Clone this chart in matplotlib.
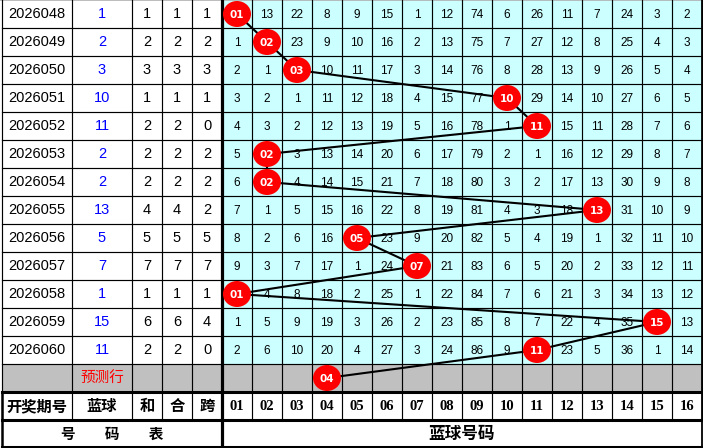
import matplotlib
matplotlib.use("Agg")
import matplotlib.pyplot as plt
from matplotlib.patches import Rectangle, Ellipse

# ---------------- data ----------------
periods = ["2026048", "2026049", "2026050", "2026051", "2026052", "2026053", "2026054",
           "2026055", "2026056", "2026057", "2026058", "2026059", "2026060"]
blue_ball = [1, 2, 3, 10, 11, 2, 2, 13, 5, 7, 1, 15, 11]
he_vals = [1, 2, 3, 1, 2, 2, 2, 4, 5, 7, 1, 6, 2]
hz_vals = [1, 2, 3, 1, 2, 2, 2, 4, 5, 7, 1, 6, 2]
kua_vals = [1, 2, 3, 1, 0, 2, 2, 2, 5, 7, 1, 4, 0]
predict_ball = 4
ball_labels = ["01", "02", "03", "04", "05", "06", "07", "08",
               "09", "10", "11", "12", "13", "14", "15", "16"]
omission = [
    [0, 13, 22, 8, 9, 15, 1, 12, 74, 6, 26, 11, 7, 24, 3, 2],
    [1, 0, 23, 9, 10, 16, 2, 13, 75, 7, 27, 12, 8, 25, 4, 3],
    [2, 1, 0, 10, 11, 17, 3, 14, 76, 8, 28, 13, 9, 26, 5, 4],
    [3, 2, 1, 11, 12, 18, 4, 15, 77, 0, 29, 14, 10, 27, 6, 5],
    [4, 3, 2, 12, 13, 19, 5, 16, 78, 1, 0, 15, 11, 28, 7, 6],
    [5, 0, 3, 13, 14, 20, 6, 17, 79, 2, 1, 16, 12, 29, 8, 7],
    [6, 0, 4, 14, 15, 21, 7, 18, 80, 3, 2, 17, 13, 30, 9, 8],
    [7, 1, 5, 15, 16, 22, 8, 19, 81, 4, 3, 18, 0, 31, 10, 9],
    [8, 2, 6, 16, 0, 23, 9, 20, 82, 5, 4, 19, 1, 32, 11, 10],
    [9, 3, 7, 17, 1, 24, 0, 21, 83, 6, 5, 20, 2, 33, 12, 11],
    [0, 4, 8, 18, 2, 25, 1, 22, 84, 7, 6, 21, 3, 34, 13, 12],
    [1, 5, 9, 19, 3, 26, 2, 23, 85, 8, 7, 22, 4, 35, 0, 13],
    [2, 6, 10, 20, 4, 27, 3, 24, 86, 9, 0, 23, 5, 36, 1, 14],
]
left_headers = ["开奖期号", "蓝球", "和", "合", "跨"]
predict_label = "预测行"
bottom_left = "号\u3000\u3000码\u3000\u3000表"
bottom_right = "蓝球号码"

# ---------------- layout ----------------
W, H = 703, 448
left_edges = [2, 72, 132, 162, 192, 222]
CW = 30
RH = 28
n_rows = len(periods)
blue_x0 = 222
blue_edges = [blue_x0 + CW * i for i in range(len(ball_labels) + 1)]
pred_y0 = RH * n_rows          # 364
head_y0 = pred_y0 + RH         # 392
foot_y0 = head_y0 + RH         # 420
foot_y1 = 447

CYAN = "#CCFFFF"
GRAY = "#C0C0C0"
RED = "#FF0000"
CJK = ["Noto Sans CJK SC", "DejaVu Sans"]

fig = plt.figure(figsize=(W / 100, H / 100), dpi=100)
ax = fig.add_axes([0, 0, 1, 1])
ax.set_xlim(0, W)
ax.set_ylim(H, 0)
ax.axis("off")

# background fills
ax.add_patch(Rectangle((0, 0), W, H, facecolor="white", edgecolor="none", zorder=0))
ax.add_patch(Rectangle((blue_x0, 0), blue_edges[-1] - blue_x0, pred_y0,
                       facecolor=CYAN, edgecolor="none", zorder=1))
ax.add_patch(Rectangle((left_edges[0], pred_y0), blue_edges[-1] - left_edges[0], RH,
                       facecolor=GRAY, edgecolor="none", zorder=1))

# grid lines
lw = 0.85
ax.plot([0, W], [0.5, 0.5], color="#B0B0B0", lw=1.2, zorder=3)
for r in range(1, n_rows + 1):
    ax.plot([left_edges[0], blue_edges[-1]], [r * RH, r * RH], color="black", lw=lw, zorder=3)
for x in left_edges[:-1]:
    ax.plot([x, x], [0, foot_y0], color="black", lw=lw, zorder=3)
for x in blue_edges[1:]:
    ax.plot([x, x], [0, foot_y0], color="black", lw=lw, zorder=3)
ax.plot([left_edges[0], left_edges[0]], [head_y0, foot_y1], color="black", lw=1.8, zorder=4)
ax.plot([blue_edges[-1], blue_edges[-1]], [0, foot_y1], color="black", lw=1.3, zorder=4)
ax.plot([blue_x0, blue_x0], [0, foot_y1], color="black", lw=2.3, zorder=4)
for y in (head_y0, foot_y0, foot_y1):
    ax.plot([left_edges[0], blue_edges[-1]], [y, y], color="black", lw=2.2, zorder=4)

# left table text
cx = [(left_edges[i] + left_edges[i + 1]) / 2 for i in range(5)]
num_font = dict(family="Liberation Sans", fontsize=10.5, ha="center", va="center", zorder=5)
for r in range(n_rows):
    yc = r * RH + RH / 2 + 0.5
    ax.text(cx[0], yc, periods[r], color="black", **num_font)
    ax.text(cx[1], yc, str(blue_ball[r]), color="#0000FF", **num_font)
    ax.text(cx[2], yc, str(he_vals[r]), color="black", **num_font)
    ax.text(cx[3], yc, str(hz_vals[r]), color="black", **num_font)
    ax.text(cx[4], yc, str(kua_vals[r]), color="black", **num_font)

# omission numbers
for r in range(n_rows):
    yc = r * RH + RH / 2 + 0.5
    for c in range(len(ball_labels)):
        if c + 1 == blue_ball[r]:
            continue
        ax.text(blue_edges[c] + CW / 2, yc, str(omission[r][c]), family="Liberation Sans",
                fontsize=8.5, ha="center", va="center", color="black", zorder=5)

# prediction label
ax.text(cx[1], pred_y0 + RH / 2, predict_label, family=CJK, fontsize=10.5,
        color=RED, ha="center", va="center", zorder=5)

# headers
for i, h in enumerate(left_headers):
    ax.text(cx[i], head_y0 + RH / 2, h, family=CJK, fontsize=11, fontweight="bold",
            ha="center", va="center", zorder=5)
for c, lab in enumerate(ball_labels):
    ax.text(blue_edges[c] + CW / 2, head_y0 + RH / 2, lab, family="Liberation Serif",
            fontsize=10.5, fontweight="bold", ha="center", va="center", zorder=5)
ax.text((left_edges[0] + blue_x0) / 2, (foot_y0 + foot_y1) / 2, bottom_left, family=CJK,
        fontsize=10.5, fontweight="bold", ha="center", va="center", zorder=5)
ax.text((blue_x0 + blue_edges[-1]) / 2, (foot_y0 + foot_y1) / 2, bottom_right, family=CJK,
        fontsize=12, fontweight="bold", ha="center", va="center", zorder=5)

# ball trend line and balls
balls = blue_ball + [predict_ball]
bx = [blue_x0 + (b - 0.5) * CW for b in balls]
by = [r * RH + RH / 2 for r in range(len(balls))]
ax.plot(bx, by, color="black", lw=1.5, zorder=6, solid_capstyle="round")
for x, y, b in zip(bx, by, balls):
    ax.add_patch(Ellipse((x, y), 28, 26, facecolor=RED, edgecolor="none", zorder=7))
    ax.text(x, y + 0.5, ball_labels[b - 1], family="DejaVu Sans", fontsize=7.5,
            fontweight="bold", color="white", ha="center", va="center", zorder=8)

fig.savefig("out.png", dpi=100)
